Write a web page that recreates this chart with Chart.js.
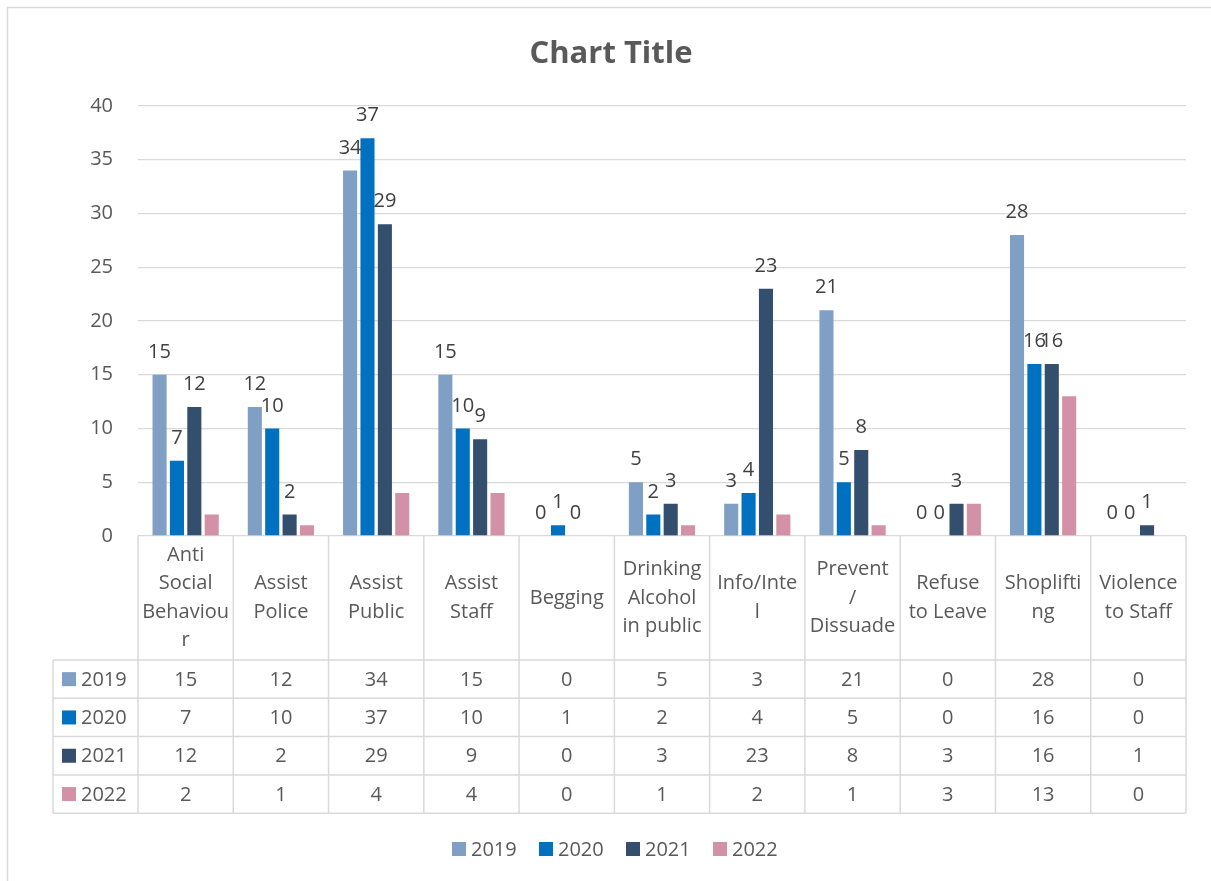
<!DOCTYPE html>
<html>
<head>
<meta charset="utf-8">
<title>Chart Title</title>
<script src="https://cdn.jsdelivr.net/npm/chart.js@4.4.1/dist/chart.umd.min.js"></script>
<style>
  html, body { margin: 0; padding: 0; background: #fff; }
  #wrap { width: 1211px; height: 881px; position: relative; }
</style>
</head>
<body>
<div id="wrap"><canvas id="incidentChart"></canvas></div>
<script>
const categories = [
  ["Anti", "Social", "Behaviou", "r"],
  ["Assist", "Police"],
  ["Assist", "Public"],
  ["Assist", "Staff"],
  ["Begging"],
  ["Drinking", "Alcohol", "in public"],
  ["Info/Inte", "l"],
  ["Prevent", "/", "Dissuade"],
  ["Refuse", "to Leave"],
  ["Shoplifti", "ng"],
  ["Violence", "to Staff"]
];
const years = ["2019", "2020", "2021", "2022"];
const values2019 = [15, 12, 34, 15, 0, 5, 3, 21, 0, 28, 0];
const values2020 = [7, 10, 37, 10, 1, 2, 4, 5, 0, 16, 0];
const values2021 = [12, 2, 29, 9, 0, 3, 23, 8, 3, 16, 1];
const values2022 = [2, 1, 4, 4, 0, 1, 2, 1, 3, 13, 0];
const yTicks = [0, 5, 10, 15, 20, 25, 30, 35, 40];

const colors = ["#7f9fc4", "#0070c0", "#344e6e", "#d291a6"];
const seriesValues = [values2019, values2020, values2021, values2022];
const labelledSeries = [0, 1, 2]; // Excel shows data labels only for these
const FONT = "'Open Sans', sans-serif";
const TEXT = "#595959";
const GRID = "#d9d9d9";

// Draws title, data labels, data table and legend around the bars
const excelExtras = {
  id: "excelExtras",
  afterDatasetsDraw(chart) {
    const ctx = chart.ctx;
    const area = chart.chartArea;
    const x = chart.scales.x;
    ctx.save();

    // outer chart border (top + left only visible)
    ctx.strokeStyle = GRID;
    ctx.lineWidth = 1.5;
    ctx.beginPath();
    ctx.moveTo(7.5, 900);
    ctx.lineTo(7.5, 7.5);
    ctx.lineTo(1300, 7.5);
    ctx.stroke();

    // title
    ctx.fillStyle = TEXT;
    ctx.font = "bold 31px " + FONT;
    ctx.textAlign = "center";
    ctx.textBaseline = "alphabetic";
    ctx.fillText("Chart Title", 611, 63);

    // data labels
    ctx.font = "20px " + FONT;
    ctx.fillStyle = "#404040";
    labelledSeries.forEach((di) => {
      const meta = chart.getDatasetMeta(di);
      meta.data.forEach((bar, i) => {
        ctx.fillText(String(seriesValues[di][i]), bar.x, bar.y - 17);
      });
    });

    // data table
    const colW = (area.right - area.left) / categories.length;
    const headerBottom = 660;
    const rowH = 38.3;
    const tableBottom = headerBottom + rowH * years.length;
    const tableLeft = 53;
    ctx.strokeStyle = GRID;
    ctx.lineWidth = 1.5;
    ctx.beginPath();
    for (let i = 0; i <= categories.length; i++) {
      const lx = area.left + colW * i;
      ctx.moveTo(lx, area.bottom);
      ctx.lineTo(lx, tableBottom);
    }
    ctx.moveTo(tableLeft, headerBottom);
    ctx.lineTo(tableLeft, tableBottom);
    for (let r = 0; r <= years.length; r++) {
      const ly = headerBottom + rowH * r;
      ctx.moveTo(tableLeft, ly);
      ctx.lineTo(area.right, ly);
    }
    ctx.stroke();

    ctx.fillStyle = TEXT;
    ctx.font = "20px " + FONT;
    ctx.textBaseline = "middle";
    const lineH = 28.5;
    const headerMid = (area.bottom + headerBottom) / 2;
    categories.forEach((lines, i) => {
      const cx = x.getPixelForValue(i);
      const top = headerMid - (lines.length - 1) * lineH / 2;
      lines.forEach((ln, k) => ctx.fillText(ln, cx, top + k * lineH));
    });
    years.forEach((yr, r) => {
      const cy = headerBottom + rowH * r + rowH / 2;
      ctx.fillStyle = colors[r];
      ctx.fillRect(62, cy - 7, 14, 14);
      ctx.fillStyle = TEXT;
      ctx.textAlign = "left";
      ctx.fillText(yr, 81, cy + 1);
      ctx.textAlign = "center";
      seriesValues[r].forEach((v, i) => {
        ctx.fillText(String(v), x.getPixelForValue(i), cy + 1);
      });
    });

    // legend
    const legY = 849;
    years.forEach((yr, r) => {
      const lx = 452 + r * 87;
      ctx.fillStyle = colors[r];
      ctx.fillRect(lx, legY - 7, 14, 14);
      ctx.fillStyle = TEXT;
      ctx.textAlign = "left";
      ctx.fillText(yr, lx + 19, legY + 1);
    });

    ctx.restore();
  }
};

new Chart(document.getElementById("incidentChart"), {
  type: "bar",
  data: {
    labels: categories,
    datasets: years.map((yr, i) => ({
      label: yr,
      data: seriesValues[i],
      backgroundColor: colors[i],
      borderWidth: 0,
      categoryPercentage: 0.73,
      barPercentage: 0.81
    }))
  },
  options: {
    responsive: true,
    maintainAspectRatio: false,
    animation: false,
    layout: { padding: { left: 0, right: 25, top: 106, bottom: 345 } },
    plugins: {
      legend: { display: false },
      title: { display: false },
      tooltip: { enabled: false }
    },
    scales: {
      x: { display: false },
      y: {
        min: 0,
        max: 40,
        afterFit: (scale) => { scale.width = 138; },
        afterBuildTicks: (scale) => { scale.ticks = yTicks.map((v) => ({ value: v })); },
        ticks: {
          padding: 25,
          color: TEXT,
          font: { family: FONT, size: 20 }
        },
        grid: { color: GRID, lineWidth: 1.3, drawTicks: false },
        border: { display: false }
      }
    }
  },
  plugins: [excelExtras]
});
</script>
</body>
</html>
